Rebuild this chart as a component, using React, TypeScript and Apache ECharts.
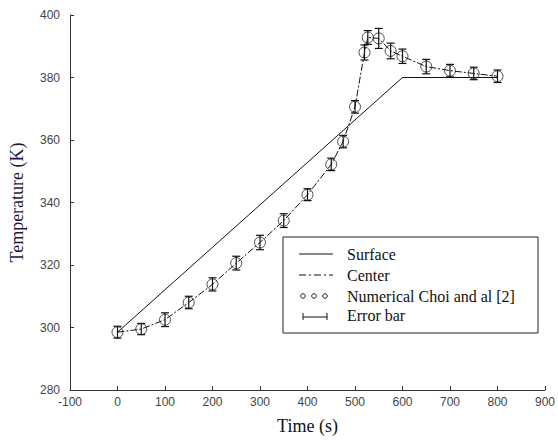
import React, { useEffect, useRef } from "react";
import * as echarts from "echarts";

const times = [0, 50, 100, 150, 200, 250, 300, 350, 400, 450, 475, 500, 520, 527, 550, 575, 600, 650, 700, 750, 800];
const numerical = [298.5, 299.5, 302.5, 308, 313.8, 320.6, 327.2, 334.2, 342.5, 352.2, 359.5, 370.6, 388, 392.8, 392.5, 388.5, 386.8, 383.5, 382.2, 381.3, 380.4];
const errors = [1.9, 1.8, 2.2, 2.0, 2.1, 2.2, 2.3, 2.2, 1.9, 2.0, 2.0, 2.0, 2.4, 2.2, 3.2, 2.5, 2.3, 2.3, 2.0, 2.0, 2.0];
const centerTimes = times;
const centerValues = numerical;
const surfaceTimes = [0, 600, 800];
const surfaceValues = [298.5, 380, 380];
const legendLabels = ["Surface", "Center", "Numerical Choi and al [2]", "Error bar"];

export default function App() {
  const ref = useRef<HTMLDivElement>(null);
  useEffect(() => {
    if (!ref.current) return;
    const chart = echarts.init(ref.current, null, { renderer: "svg" });
    const serif = "'Liberation Serif', 'Times New Roman', serif";
    const sans = "'Liberation Sans', Arial, sans-serif";
    const lx = 299;
    const tx = 347;
    const rows = [254, 275, 296, 315];
    chart.setOption({
      animation: false,
      grid: { left: 69, right: 12, top: 15, bottom: 43 },
      xAxis: {
        type: "value",
        min: -100,
        max: 900,
        interval: 100,
        name: "Time (s)",
        nameLocation: "middle",
        nameGap: 27,
        nameTextStyle: { fontFamily: serif, fontSize: 18, color: "#111" },
        axisLine: { onZero: false, lineStyle: { color: "#333", width: 1 } },
        axisTick: { inside: true, length: 4, lineStyle: { color: "#333" } },
        axisLabel: { fontFamily: sans, fontSize: 12, color: "#444", margin: 6 },
        splitLine: { show: false },
      },
      yAxis: {
        type: "value",
        min: 280,
        max: 400,
        interval: 20,
        name: "Temperature (K)",
        nameLocation: "middle",
        nameGap: 44,
        nameTextStyle: { fontFamily: serif, fontSize: 18, color: "#1a1a40" },
        axisLine: { show: true, onZero: false, lineStyle: { color: "#333", width: 1 } },
        axisTick: { show: true, inside: true, length: 4, lineStyle: { color: "#333" } },
        axisLabel: { fontFamily: sans, fontSize: 12, color: "#444", margin: 10 },
        splitLine: { show: false },
      },
      series: [
        {
          name: "Surface",
          type: "line",
          data: surfaceTimes.map((t, i) => [t, surfaceValues[i]]),
          symbol: "none",
          lineStyle: { color: "#111", width: 1 },
        },
        {
          name: "Center",
          type: "line",
          data: centerTimes.map((t, i) => [t, centerValues[i]]),
          symbol: "none",
          lineStyle: { color: "#111", width: 1, type: [7, 2, 2, 2] },
        },
        {
          name: "Numerical Choi and al [2]",
          type: "scatter",
          data: times.map((t, i) => [t, numerical[i]]),
          symbol: "circle",
          symbolSize: 11,
          itemStyle: { color: "rgba(255,255,255,0)", borderColor: "#222", borderWidth: 1 },
          z: 3,
        },
        {
          name: "Error bar",
          type: "custom",
          data: times.map((t, i) => [t, numerical[i], errors[i]]),
          renderItem: (params: any, api: any) => {
            const x = api.value(0);
            const y = api.value(1);
            const e = api.value(2);
            const top = api.coord([x, y + e]);
            const bot = api.coord([x, y - e]);
            const w = 4;
            const st = { stroke: "#111", lineWidth: 1.2 };
            return {
              type: "group",
              children: [
                { type: "line", shape: { x1: top[0], y1: top[1], x2: bot[0], y2: bot[1] }, style: st },
                { type: "line", shape: { x1: top[0] - w, y1: top[1], x2: top[0] + w, y2: top[1] }, style: st },
                { type: "line", shape: { x1: bot[0] - w, y1: bot[1], x2: bot[0] + w, y2: bot[1] }, style: st },
              ],
            };
          },
          z: 4,
        },
      ],
      graphic: [
        {
          type: "rect",
          shape: { x: 283, y: 237, width: 255, height: 96 },
          style: { fill: "#fff", stroke: "#222", lineWidth: 1 },
          z: 10,
        },
        { type: "line", shape: { x1: lx, y1: rows[0], x2: lx + 34, y2: rows[0] }, style: { stroke: "#111", lineWidth: 1 }, z: 11 },
        { type: "line", shape: { x1: lx, y1: rows[1], x2: lx + 34, y2: rows[1] }, style: { stroke: "#111", lineWidth: 1, lineDash: [7, 3, 2, 3] }, z: 11 },
        { type: "circle", shape: { cx: lx + 4, cy: rows[2], r: 2.3 }, style: { fill: "none", stroke: "#222", lineWidth: 1 }, z: 11 },
        { type: "circle", shape: { cx: lx + 15, cy: rows[2], r: 2.3 }, style: { fill: "none", stroke: "#222", lineWidth: 1 }, z: 11 },
        { type: "circle", shape: { cx: lx + 26, cy: rows[2], r: 2.3 }, style: { fill: "none", stroke: "#222", lineWidth: 1 }, z: 11 },
        { type: "line", shape: { x1: lx + 4, y1: rows[3] + 2, x2: lx + 28, y2: rows[3] + 2 }, style: { stroke: "#111", lineWidth: 1 }, z: 11 },
        { type: "line", shape: { x1: lx + 4, y1: rows[3] - 2, x2: lx + 4, y2: rows[3] + 5 }, style: { stroke: "#111", lineWidth: 1 }, z: 11 },
        { type: "line", shape: { x1: lx + 28, y1: rows[3] - 2, x2: lx + 28, y2: rows[3] + 5 }, style: { stroke: "#111", lineWidth: 1 }, z: 11 },
        ...legendLabels.map((s, i) => ({
          type: "text",
          x: tx,
          y: rows[i],
          style: { text: s, font: "16px 'Liberation Serif', 'Times New Roman', serif", fontFamily: serif, fontSize: 16, fill: "#111", verticalAlign: "middle" },
          z: 11,
        })),
      ],
    });
    return () => chart.dispose();
  }, []);
  return <div ref={ref} style={{ width: 558, height: 440, position: "absolute", left: 0, top: 0 }} />;
}
